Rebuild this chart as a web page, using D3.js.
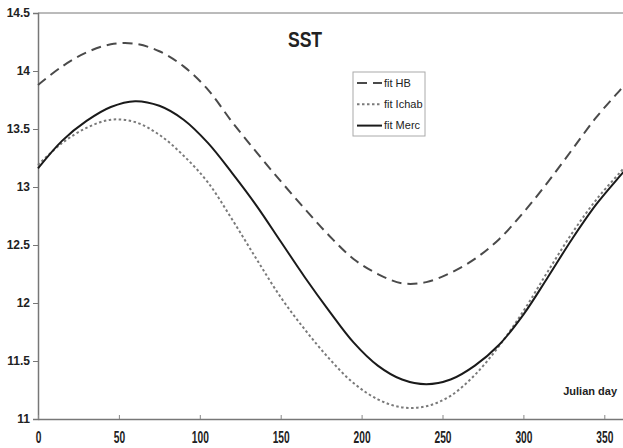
<!DOCTYPE html>
<html lang="en">
<head>
	<meta charset="UTF-8">
	<title>SST</title>
	<script src="https://d3js.org/d3.v7.min.js"></script>
	<style>
		body { margin: 0; background: #fff; }
		text { font-family: "Liberation Sans", Arial, sans-serif; fill: #222; }
	</style>
</head>
<body>
	<script>
		// julian day of each reading
		var days  = [0, 15, 30, 45, 60, 75, 90, 105, 120, 135, 150, 165, 180,
		             195, 210, 225, 240, 255, 270, 285, 300, 315, 330, 345, 360, 365];
		var hb    = [13.88, 14.04, 14.16, 14.23, 14.235, 14.17, 14.04, 13.84, 13.56, 13.30, 13.05, 12.81, 12.58,
		             12.38, 12.25, 12.17, 12.18, 12.26, 12.38, 12.55, 12.78, 13.04, 13.32, 13.60, 13.84, 13.92];
		var ichab = [13.19, 13.38, 13.51, 13.58, 13.56, 13.45, 13.27, 13.04, 12.72, 12.38, 12.05, 11.77, 11.52,
		             11.31, 11.17, 11.10, 11.11, 11.20, 11.38, 11.63, 11.93, 12.27, 12.60, 12.89, 13.13, 13.21];
		var merc  = [13.16, 13.40, 13.57, 13.69, 13.74, 13.70, 13.58, 13.38, 13.12, 12.84, 12.53, 12.22, 11.93,
		             11.66, 11.46, 11.34, 11.30, 11.34, 11.46, 11.64, 11.90, 12.22, 12.55, 12.85, 13.10, 13.18];
		var xTicks = [0, 50, 100, 150, 200, 250, 300, 350];
		var yTicks = [11, 11.5, 12, 12.5, 13, 13.5, 14, 14.5];
		var names  = ["fit HB", "fit Ichab", "fit Merc"];

		var w = 623, h = 448;
		var mLeft = 38, mTop = 13, mBottom = 419;

		var svg = d3.select("body").append("svg")
			.attr("width", w)
			.attr("height", h);

		var x = d3.scaleLinear().domain([0, 365]).range([mLeft, mLeft + 365 * 1.618]);
		var y = d3.scaleLinear().domain([11, 14.5]).range([mBottom, mTop]);

		// frame top line
		svg.append("line")
			.attr("x1", mLeft).attr("x2", w)
			.attr("y1", mTop).attr("y2", mTop)
			.attr("stroke", "#777").attr("stroke-width", 1);

		// y axis
		var gy = svg.append("g")
			.attr("transform", "translate(" + mLeft + ",0)")
			.call(d3.axisLeft(y).tickValues(yTicks).tickSize(5).tickPadding(3).tickFormat(d3.format("")));
		gy.select(".domain").attr("stroke", "#777").attr("stroke-width", 1.5);
		gy.selectAll(".tick line").attr("stroke", "#777");
		gy.selectAll(".tick text")
			.attr("font-size", 12).attr("font-weight", "bold")
			.style("font-family", "'Liberation Sans', Arial, sans-serif");

		// x axis
		var gx = svg.append("g")
			.attr("transform", "translate(0," + mBottom + ")")
			.call(d3.axisBottom(x).tickValues(xTicks).tickSizeInner(-4).tickSizeOuter(0));
		gx.select(".domain").attr("stroke", "#777").attr("stroke-width", 1.5);
		gx.selectAll(".tick line").attr("stroke", "#888");
		gx.selectAll(".tick text")
			.attr("y", 0).attr("dy", 0)
			.attr("transform", "translate(0,24) scale(0.85,1.3)")
			.attr("font-size", 12).attr("font-weight", "bold")
			.style("font-family", "'Liberation Sans', Arial, sans-serif");

		var series = [
			{ name: names[0], values: hb,    color: "#4a4a4a", dash: "10,6" },
			{ name: names[1], values: ichab, color: "#7a7a7a", dash: "2.5,2.5" },
			{ name: names[2], values: merc,  color: "#1a1a1a", dash: null }
		];

		var line = d3.line()
			.x(function(d){ return x(d[0]); })
			.y(function(d){ return y(d[1]); })
			.curve(d3.curveCatmullRom.alpha(0.5));

		svg.selectAll("path.fit")
			.data(series)
			.enter().append("path")
			.attr("class", "fit")
			.attr("fill", "none")
			.attr("stroke", function(d){ return d.color; })
			.attr("stroke-width", 2)
			.attr("stroke-dasharray", function(d){ return d.dash; })
			.attr("d", function(d){
				return line(days.map(function(t, i){ return [t, d.values[i]]; }));
			});

		// title
		svg.append("text")
			.attr("transform", "translate(305,47) scale(0.8,1)")
			.attr("text-anchor", "middle")
			.attr("font-size", 22).attr("font-weight", "bold")
			.text("SST");

		// x label
		svg.append("text")
			.attr("x", 617).attr("y", 395)
			.attr("text-anchor", "end")
			.attr("font-size", 11).attr("font-weight", "bold")
			.text("Julian day");

		// legend
		var lg = svg.append("g").attr("transform", "translate(353,72)");
		lg.append("rect")
			.attr("width", 72).attr("height", 64)
			.attr("fill", "#fff").attr("stroke", "#aaa").attr("stroke-width", 1);
		var item = lg.selectAll("g.item")
			.data(series)
			.enter().append("g")
			.attr("class", "item")
			.attr("transform", function(d, i){ return "translate(0," + (11 + i * 21.3) + ")"; });
		item.append("line")
			.attr("x1", 4).attr("x2", 29)
			.attr("stroke", function(d){ return d.color; })
			.attr("stroke-width", 2)
			.attr("stroke-dasharray", function(d){ return d.dash; });
		item.append("text")
			.attr("x", 31).attr("dy", "0.35em")
			.attr("font-size", 11)
			.text(function(d){ return d.name; });
	</script>
</body>
</html>
